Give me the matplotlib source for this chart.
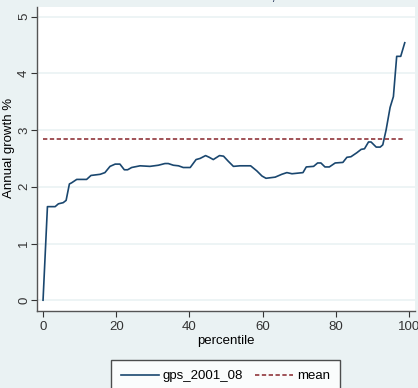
import matplotlib
matplotlib.use("Agg")
import matplotlib.pyplot as plt

# growth incidence curve
pct = [0, 1.2, 3.3, 4.2, 5.5, 6.3, 7.2, 7.8, 9.2, 11.9, 13.1, 15.6, 16.9, 18.3, 19.7,
       21.0, 22.2, 23.1, 24.2, 26.5, 29.2, 31.5, 33.3, 34.2, 35.6, 37.0, 38.3, 40.2,
       41.8, 42.9, 44.4, 45.4, 46.5, 48.2, 49.3, 50.6, 52.0, 53.8, 56.7, 58.4, 59.8,
       60.9, 63.4, 65.2, 66.6, 68.0, 71.0, 71.9, 73.9, 75.0, 75.9, 77.0, 78.2, 79.8,
       81.9, 83.0, 84.1, 85.7, 86.9, 87.8, 88.9, 89.6, 91.0, 92.1, 92.8, 93.7, 94.8,
       95.7, 96.6, 97.7, 98.8]
growth = [0.0, 1.65, 1.65, 1.70, 1.72, 1.76, 2.05, 2.07, 2.13, 2.13, 2.20, 2.22, 2.25,
          2.36, 2.40, 2.40, 2.30, 2.30, 2.34, 2.37, 2.36, 2.38, 2.41, 2.41, 2.38, 2.37,
          2.34, 2.34, 2.48, 2.50, 2.55, 2.52, 2.48, 2.55, 2.54, 2.45, 2.36, 2.37, 2.37,
          2.28, 2.19, 2.15, 2.17, 2.22, 2.25, 2.23, 2.25, 2.35, 2.36, 2.42, 2.42, 2.35,
          2.35, 2.42, 2.43, 2.52, 2.53, 2.60, 2.66, 2.67, 2.79, 2.79, 2.70, 2.70, 2.74,
          3.00, 3.40, 3.59, 4.30, 4.30, 4.54]
mean_growth = 2.845

xticks = [0, 20, 40, 60, 80, 100]
yticks = [0, 1, 2, 3, 4, 5]

bg = "#EAF2F3"
navy = "#1A476F"
maroon = "#90353B"
plt.rcParams["font.family"] = ["Liberation Sans", "DejaVu Sans"]

fig = plt.figure(figsize=(4.18, 3.88), dpi=100, facecolor=bg)
ax = fig.add_axes([37 / 418, 1 - 311 / 388, 378 / 418, 304 / 388])
ax.set_facecolor("white")

for yv in yticks:
    ax.axhline(yv, color=bg, lw=1.2, zorder=0)

ax.plot(pct, growth, color=navy, lw=1.2, label="gps_2001_08")
ax.plot([pct[0], pct[-1]], [mean_growth, mean_growth], color=maroon, lw=1.2,
        ls=(0, (2.6, 1.5)), label="mean")

ax.set_xlim(-1.65, 101.6)
ax.set_ylim(-0.19, 5.17)
ax.set_xticks(xticks)
ax.set_yticks(yticks)
ax.tick_params(labelsize=9.5, colors="#333333", length=4.5, width=0.8)
ax.tick_params(axis="y", pad=0.5)
ax.tick_params(axis="x", pad=3)
for lab in ax.get_yticklabels():
    lab.set_rotation(90)
    lab.set_va("center")
for s in ["top", "right"]:
    ax.spines[s].set_visible(False)
for s in ["left", "bottom"]:
    ax.spines[s].set_color("#555555")
    ax.spines[s].set_linewidth(1.0)

ax.set_xlabel("percentile", fontsize=9.5, labelpad=1)
ax.set_ylabel("Annual growth %", fontsize=9.5)
ax.yaxis.set_label_coords(-0.058, 0.536)

# title sits mostly above the top edge, as in the reference
fig.text(0.555, 1 - 0.5 / 388, "Growth incidence curve, 2001-2008", ha="center",
         va="baseline", fontsize=11, color="#1E2D53")

leg = fig.legend(loc="upper center", bbox_to_anchor=(225.5 / 418, 1 - 360 / 388),
                 ncol=2, fontsize=9.5, frameon=True, fancybox=False,
                 handlelength=2.9, handletextpad=0.3, columnspacing=0.9,
                 borderpad=0.75, borderaxespad=0)
leg.get_frame().set_edgecolor("#222222")
leg.get_frame().set_linewidth(1.0)
leg.get_frame().set_facecolor("white")

fig.savefig("out.png", dpi=100, facecolor=bg)
